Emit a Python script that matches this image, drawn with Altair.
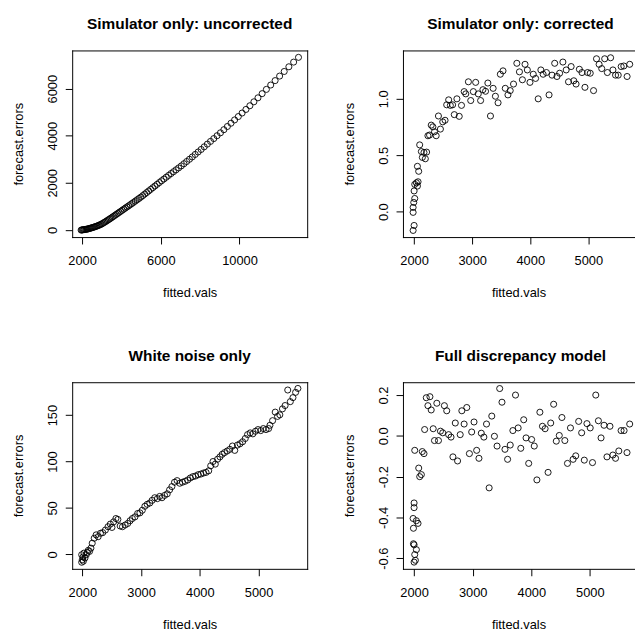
import altair as alt
import pandas as pd

# ---------------- data ----------------
p1_x = [1950, 1988, 2026, 2065, 2105, 2146, 2188, 2230, 2273, 2317,
        2362, 2408, 2454, 2502, 2550, 2600, 2650, 2701, 2753, 2807,
        2861, 2917, 2973, 3030, 3089, 3149, 3210, 3272, 3335, 3400,
        3465, 3532, 3600, 3670, 3741, 3814, 3887, 3963, 4039, 4117,
        4197, 4278, 4361, 4445, 4532, 4619, 4709, 4800, 4892, 4987,
        5083, 5182, 5282, 5384, 5488, 5594, 5703, 5813, 5925, 6040,
        6157, 6276, 6398, 6521, 6648, 6776, 6907, 7041, 7177, 7316,
        7457, 7601, 7749, 7898, 8051, 8207, 8366, 8528, 8693, 8861,
        9032, 9207, 9385, 9567, 9752, 9941, 10133, 10329, 10529, 10733,
        10940, 11152, 11368, 11588, 11812, 12041, 12274, 12511, 12753, 13000]
p1_y = [-10, -5, 3, 8, 12, 17, 23, 28, 37, 46,
        57, 68, 80, 90, 104, 118, 132, 146, 161, 180,
        200, 220, 240, 266, 300, 328, 360, 393, 428, 464,
        500, 538, 578, 619, 660, 702, 745, 789, 833, 879,
        925, 972, 1019, 1068, 1119, 1171, 1225, 1280, 1335, 1392,
        1455, 1520, 1586, 1653, 1722, 1792, 1864, 1937, 2010, 2086,
        2160, 2237, 2315, 2393, 2472, 2552, 2633, 2718, 2810, 2905,
        3000, 3100, 3205, 3310, 3417, 3529, 3644, 3760, 3879, 4000,
        4124, 4257, 4393, 4531, 4672, 4815, 4964, 5117, 5274, 5441,
        5611, 5788, 5969, 6154, 6342, 6534, 6730, 6929, 7128, 7330]

p2_x = [1983, 2000, 1983, 1983, 1994, 2011, 2000, 2011, 2040, 2057, 2068, 2057, 2079,
        2096, 2125, 2142, 2170, 2193, 2215, 2238, 2266, 2295, 2323, 2351, 2380,
        2419, 2453, 2493, 2533, 2561, 2595, 2624, 2663, 2692, 2737, 2777, 2816,
        2862, 2890, 2935, 2975, 3020, 3060, 3105, 3145, 3185, 3230, 3270, 3315,
        3361, 3400, 3446, 3485, 3531, 3570, 3616, 3655, 3712, 3769, 3814, 3865,
        3910, 3950, 3995, 4052, 4092, 4137, 4183, 4222, 4279, 4324, 4375, 4421,
        4460, 4506, 4562, 4619, 4659, 4704, 4750, 4789, 4846, 4891, 4942, 4988,
        5033, 5090, 5141, 5186, 5231, 5282, 5328, 5384, 5424, 5469, 5515, 5566,
        5611, 5668, 5713]
p2_y = [-0.166, -0.122, -0.006, 0.038, 0.082, 0.117, 0.184, 0.242, 0.256, 0.227, 0.265, 0.402, 0.358,
        0.592, 0.533, 0.481, 0.525, 0.469, 0.528, 0.673, 0.679, 0.767, 0.752, 0.708, 0.673,
        0.848, 0.732, 0.796, 0.810, 0.947, 0.991, 0.942, 0.947, 0.860, 1.000, 0.845, 0.942,
        1.064, 1.044, 1.151, 0.985, 1.064, 1.146, 1.044, 0.985, 1.081, 1.067, 1.140, 0.848,
        1.093, 1.023, 0.965, 1.218, 1.248, 1.093, 1.035, 1.073, 1.131, 1.315, 1.239, 1.169,
        1.306, 1.256, 1.146, 1.218, 1.181, 1.000, 1.256, 1.218, 1.233, 1.035, 1.210, 1.315,
        1.198, 1.227, 1.326, 1.256, 1.151, 1.286, 1.160, 1.131, 1.262, 1.233, 1.102, 1.233,
        1.227, 1.073, 1.355, 1.306, 1.268, 1.355, 1.233, 1.364, 1.256, 1.210, 1.210, 1.286,
        1.291, 1.198, 1.306]

p3_x = [1989, 2000, 2011, 1989, 2028, 2017, 2045, 2067, 2084, 2101, 2123, 2146, 2168,
        2202, 2235, 2269, 2308, 2347, 2392, 2437, 2476, 2504, 2532, 2571, 2605,
        2644, 2683, 2728, 2773, 2812, 2851, 2896, 2941, 2980, 3020, 3064, 3104,
        3148, 3188, 3232, 3277, 3316, 3356, 3400, 3445, 3485, 3524, 3569, 3613,
        3658, 3703, 3748, 3793, 3838, 3882, 3927, 3972, 4017, 4062, 4106, 4151,
        4185, 4224, 4263, 4302, 4342, 4381, 4420, 4465, 4510, 4555, 4594, 4639,
        4683, 4728, 4773, 4812, 4857, 4902, 4947, 4991, 5036, 5081, 5126, 5171,
        5193, 5238, 5283, 5322, 5361, 5406, 5451, 5496, 5540, 5585, 5630, 5669]
p3_y = [-8.5, -5.7, -2.8, -0.4, 1.4, -7.4, -3.9, -0.4, 2.1, 4.3, 3.2, 6.7, 12.0,
        17.4, 21.0, 19.0, 22.7, 23.4, 26.2, 29.8, 32.6, 29.0, 35.0, 38.6, 37.6,
        30.5, 29.8, 31.6, 33.3, 36.2, 38.6, 40.4, 44.0, 44.7, 47.5, 51.8, 53.9,
        55.3, 58.2, 61.0, 60.0, 62.4, 61.0, 63.5, 65.2, 69.5, 73.0, 77.7, 79.4,
        76.6, 77.7, 78.7, 80.1, 82.3, 83.7, 84.4, 85.8, 86.5, 87.6, 88.3, 90.0,
        95.4, 100.0, 97.2, 102.5, 105.0, 107.8, 109.6, 111.3, 113.1, 116.7, 112.0, 117.7,
        119.1, 121.3, 124.8, 129.0, 130.8, 129.8, 132.6, 134.4, 133.3, 135.5, 134.4, 135.5,
        139.0, 144.0, 153.2, 148.6, 150.3, 156.7, 160.3, 177.0, 164.5, 168.8, 174.5, 178.7]

p4_x = [2000, 2022, 2011, 1989, 2000, 2039, 1989, 1983, 2000, 2000, 2039, 2067,
        2011, 2079, 2096, 2124, 2140, 2169, 2180, 2208, 2236, 2270, 2292, 2326,
        2348, 2388, 2416, 2450, 2489, 2517, 2557, 2590, 2630, 2663, 2703, 2742,
        2787, 2815, 2854, 2899, 2944, 2983, 3023, 3068, 3107, 3147, 3191, 3236,
        3281, 3326, 3371, 3416, 3461, 3500, 3551, 3596, 3641, 3686, 3731, 3776,
        3821, 3871, 3911, 3956, 4006, 4051, 4096, 4147, 4191, 4236, 4287, 4332,
        4382, 4427, 4478, 4523, 4573, 4618, 4669, 4714, 4759, 4809, 4860, 4905,
        4950, 5006, 5045, 5101, 5146, 5191, 5242, 5292, 5343, 5393, 5438, 5494,
        5533, 5584, 5634, 5680]
p4_y = [-0.619, -0.610, -0.582, -0.529, -0.534, -0.558, -0.453, -0.405, -0.352, -0.329, -0.416, -0.429,
        -0.071, -0.158, -0.200, -0.190, -0.077, -0.087, 0.031, 0.187, 0.148, 0.192, 0.127, 0.035,
        -0.023, 0.160, -0.023, 0.023, 0.015, 0.148, 0.123, 0.006, -0.006, -0.103, 0.063, -0.123,
        0.006, 0.123, 0.058, 0.139, -0.087, 0.019, 0.068, -0.071, -0.110, 0.013, -0.006, 0.058,
        -0.255, 0.097, -0.002, -0.050, 0.232, 0.165, -0.066, -0.115, -0.045, 0.026, 0.200, 0.039,
        -0.061, 0.079, -0.010, -0.135, -0.018, -0.050, -0.216, 0.116, 0.047, 0.035, -0.179, 0.063,
        0.155, -0.026, 0.002, 0.090, -0.023, -0.135, 0.039, -0.115, -0.098, 0.071, 0.015, -0.119,
        0.060, 0.039, -0.131, 0.200, 0.074, -0.010, 0.052, -0.103, 0.047, -0.094, -0.110, -0.074,
        0.026, 0.026, -0.082, 0.058]

titles = ["Simulator only: uncorrected", "Simulator only: corrected",
          "White noise only", "Full discrepancy model"]
x_label = "fitted.vals"
y_label = "forecast.errors"

p1_xticks = [2000, 6000, 10000]
p1_yticks = [0, 2000, 4000, 6000]
p2_xticks = [2000, 3000, 4000, 5000]
p2_yticks = [0.0, 0.5, 1.0]
p3_xticks = [2000, 3000, 4000, 5000]
p3_yticks = [0, 50, 100, 150]
p4_xticks = [2000, 3000, 4000, 5000]
p4_yticks = [-0.6, -0.4, -0.2, 0.0, 0.2]

# ---------------- layout / style ----------------
FONT = "Liberation Sans"
PW = 238      # full panel width (as in the original device)
PW2 = 234     # right-hand panels are cut by the page edge
PH = 189


def label_expr(fmt):
    return "(datum.value < 0 ? '-' : '') + format(abs(datum.value), '" + fmt + "')"


def panel(xs, ys, title, xdom, ydom, xticks, yticks, xfmt, yfmt, width, right_frame, title_dx):
    df = pd.DataFrame({"x": xs, "y": ys})
    xdom = [xdom[0], xdom[0] + (xdom[1] - xdom[0]) * width / PW]
    xsc = alt.Scale(domain=xdom, nice=False, zero=False)
    ysc = alt.Scale(domain=ydom, nice=False, zero=False)
    xaxis = alt.Axis(values=xticks, labelExpr=label_expr(xfmt), title=x_label,
                     orient="bottom", domain=True, ticks=True, tickSize=7,
                     labelPadding=11, labelBaseline="top", labelFlush=False,
                     labelOverlap=False, titleY=60, titleBaseline="alphabetic",
                     grid=False)
    yaxis = alt.Axis(values=yticks, labelExpr=label_expr(yfmt), title=y_label,
                     orient="left", domain=True, ticks=True, tickSize=7,
                     labelAngle=270, labelAlign="center", labelBaseline="alphabetic",
                     labelPadding=9, labelFlush=False, labelOverlap=False,
                     titleAngle=270, titleX=-50, titleBaseline="alphabetic",
                     grid=False)
    pts = alt.Chart(df).mark_point(
        shape="circle", filled=False, color="black", size=38,
        strokeWidth=0.9, opacity=1
    ).encode(
        x=alt.X("x:Q", scale=xsc, axis=xaxis),
        y=alt.Y("y:Q", scale=ysc, axis=yaxis),
    )
    top_axis = alt.Axis(orient="top", labels=False, ticks=False, domain=True,
                        title=None, grid=False)
    if right_frame:
        ry = alt.Y("y:Q", axis=alt.Axis(orient="right", labels=False, ticks=False,
                                        domain=True, title=None, grid=False))
    else:
        ry = alt.Y("y:Q", axis=None)
    frame = alt.Chart(df).mark_point(opacity=0).encode(
        x=alt.X("x:Q", axis=top_axis), y=ry)
    return alt.layer(pts, frame).resolve_axis(
        x="independent", y="independent"
    ).properties(
        width=width, height=PH,
        title=alt.Title(text=title, fontSize=15.6, font=FONT, fontWeight="bold",
                        anchor="middle", frame="group", offset=6,
                        baseline="alphabetic", color="black", dx=title_dx),
    )


c1 = panel(p1_x, p1_y, titles[0], [1495, 13442], [-306, 7623],
           p1_xticks, p1_yticks, "d", "d", PW, True, 0)
c2 = panel(p2_x, p2_y, titles[1], [1808, 5855], [-0.2249, 1.4287],
           p2_xticks, p2_yticks, "d", ".1f", PW2, False, (PW - PW2) / 2)
c3 = panel(p3_x, p3_y, titles[2], [1827, 5827], [-15.6, 185.4],
           p3_xticks, p3_yticks, "d", "d", PW, True, 0)
c4 = panel(p4_x, p4_y, titles[3], [1810, 5821], [-0.652, 0.263],
           p4_xticks, p4_yticks, "d", ".1f", PW2, False, (PW - PW2) / 2)

chart = alt.concat(
    c1, c2, c3, c4, columns=2, spacing={"row": 147, "column": 97}, bounds="flush"
).properties(
    padding={"left": 5, "top": 5, "right": 0, "bottom": 0},
    background="white",
).configure_axis(
    domainColor="black", domainWidth=1, domainCap="square",
    tickColor="black", tickWidth=1,
    labelColor="black", titleColor="black",
    labelFont=FONT, titleFont=FONT, labelFontSize=13, titleFontSize=13,
    titleFontWeight="normal",
).configure_view(strokeWidth=0)

chart.save("out.html", embed_options={"renderer": "svg", "actions": False})
